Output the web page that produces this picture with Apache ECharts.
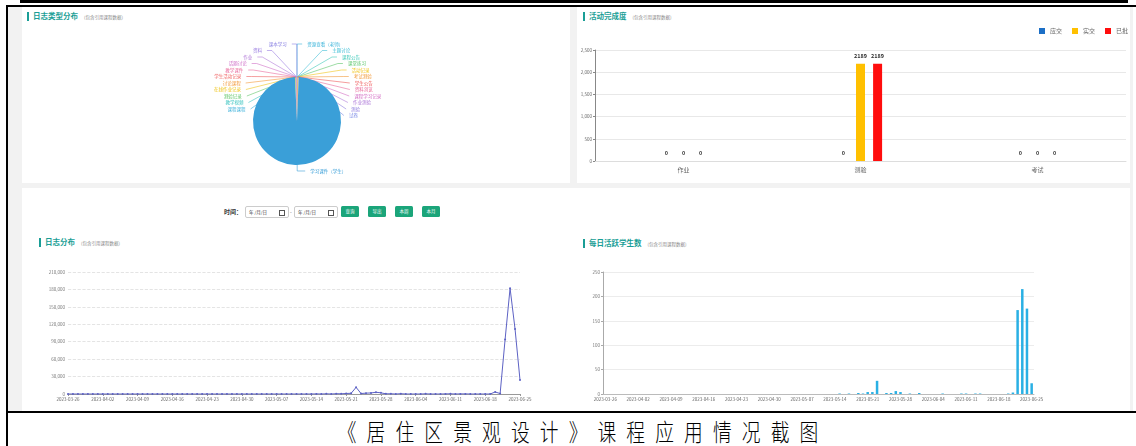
<!DOCTYPE html>
<html><head><meta charset="utf-8">
<script src="https://cdn.jsdelivr.net/npm/echarts/dist/echarts.min.js"></script>
<style>
body{margin:0;width:1136px;height:446px;background:#fff;position:relative;overflow:hidden;font-family:"Noto Sans CJK SC","Noto Sans",sans-serif;}
.a{position:absolute;}
.blk{position:absolute;background:#000;}
.panel{position:absolute;background:#fff;}
.ttl{position:absolute;font-size:7.5px;font-weight:bold;color:#1a9e96;line-height:10px;white-space:nowrap;}
.ttl:before{content:"";position:absolute;left:-6px;top:1px;width:2px;height:9px;background:#1a9e96;}
.ttl span{font-size:4.5px;font-weight:normal;color:#888;margin-left:6px;vertical-align:middle;}
.date{position:absolute;top:206px;height:10px;width:42px;border:1px solid #ccc;border-radius:2px;background:#fff;font-size:4.5px;color:#333;line-height:10px;}
.date i{position:absolute;right:3px;top:3px;width:4px;height:4px;border:0.7px solid #555;}
.btn{position:absolute;top:206px;width:18px;height:11px;background:#1ba57a;border-radius:1.5px;color:#fff;font-size:4.5px;line-height:11px;text-align:center;}
.cap{position:absolute;left:10px;width:1136px;top:417px;text-align:center;font-size:24px;line-height:28px;color:#000;}
.cap span{display:inline-block;transform:scaleX(0.78);letter-spacing:13px;padding-left:13px;font-family:"Noto Sans CJK SC";font-weight:300;}
</style></head><body>
<!-- document frame -->
<div class="blk" style="left:20px;top:0;width:1108px;height:3px"></div>
<div class="blk" style="left:6px;top:4.5px;width:1130px;height:2px"></div>
<div class="blk" style="left:6px;top:5px;width:1.5px;height:441px"></div>
<div class="blk" style="left:6px;top:411px;width:1130px;height:1.5px"></div>
<!-- dashboard background -->
<div class="a" style="left:7.5px;top:6.5px;width:1125px;height:404.5px;background:#f2f2f2"></div>
<div class="panel" style="left:22px;top:7px;width:548px;height:176px"></div>
<div class="panel" style="left:577px;top:7px;width:553px;height:176px"></div>
<div class="panel" style="left:22px;top:188px;width:1108px;height:223px"></div>

<div class="ttl" style="left:33px;top:11px">日志类型分布<span>(包含引用课程数据)</span></div>
<div class="ttl" style="left:589px;top:11px">活动完成度<span>(包含引用课程数据)</span></div>
<div class="ttl" style="left:45px;top:237px">日志分布<span>(包含引用课程数据)</span></div>
<div class="ttl" style="left:589px;top:238px">每日活跃学生数<span>(包含引用课程数据)</span></div>

<div class="a" style="left:224px;top:206px;font-size:6px;font-weight:bold;line-height:11px;color:#333">时间：</div>
<div class="date" style="left:245px"><span style="margin-left:3px">年 /月/日</span><i></i></div>
<div class="a" style="left:290px;top:206px;font-size:5px;line-height:11px;color:#555">-</div>
<div class="date" style="left:294px"><span style="margin-left:3px">年 /月/日</span><i></i></div>
<div class="btn" style="left:341px">查询</div>
<div class="btn" style="left:368px">导出</div>
<div class="btn" style="left:395px">本周</div>
<div class="btn" style="left:422px">本月</div>

<div id="c1" class="a" style="left:22px;top:7px;width:548px;height:176px"></div>
<div id="c2" class="a" style="left:577px;top:7px;width:553px;height:176px"></div>
<div id="c3" class="a" style="left:22px;top:230px;width:548px;height:180px"></div>
<div id="c4" class="a" style="left:577px;top:230px;width:553px;height:180px"></div>

<div class="cap"><span>《居住区景观设计》课程应用情况截图</span></div>

<script>
// ---------- data ----------
const pieNames = ['资源查看（老师）','主题讨论','课程公告','课堂练习','活动记录','考试测验','学生公告','资料浏览','课程学习记录','作业测验','测验','试卷',
  '学习课件（学生）',
  '课程课程','教学视频','测验记录','在线作业记录','讨论课程','学生活动记录','教学课件','话题讨论','作业','资料','课本学习'];
const pieValues = [6,4,3,3,4,30,3,3,2,2,2,2,
  10000,
  6,7,7,8,7,8,7,7,6,6,8];
const mainSlice = '学习课件（学生）';

const actCats = ['作业','测验','考试'];
const actShould = [0,0,0];
const actDone = [0,2189,0];
const actMarked = [0,2189,0];
const actTicks = [0,500,1000,1500,2000,2500];

const dates = ['2023-03-26','2023-03-27','2023-03-28','2023-03-29','2023-03-30','2023-03-31',
'2023-04-01','2023-04-02','2023-04-03','2023-04-04','2023-04-05','2023-04-06','2023-04-07','2023-04-08','2023-04-09','2023-04-10',
'2023-04-11','2023-04-12','2023-04-13','2023-04-14','2023-04-15','2023-04-16','2023-04-17','2023-04-18','2023-04-19','2023-04-20',
'2023-04-21','2023-04-22','2023-04-23','2023-04-24','2023-04-25','2023-04-26','2023-04-27','2023-04-28','2023-04-29','2023-04-30',
'2023-05-01','2023-05-02','2023-05-03','2023-05-04','2023-05-05','2023-05-06','2023-05-07','2023-05-08','2023-05-09','2023-05-10',
'2023-05-11','2023-05-12','2023-05-13','2023-05-14','2023-05-15','2023-05-16','2023-05-17','2023-05-18','2023-05-19','2023-05-20',
'2023-05-21','2023-05-22','2023-05-23','2023-05-24','2023-05-25','2023-05-26','2023-05-27','2023-05-28','2023-05-29','2023-05-30','2023-05-31',
'2023-06-01','2023-06-02','2023-06-03','2023-06-04','2023-06-05','2023-06-06','2023-06-07','2023-06-08','2023-06-09','2023-06-10',
'2023-06-11','2023-06-12','2023-06-13','2023-06-14','2023-06-15','2023-06-16','2023-06-17','2023-06-18','2023-06-19','2023-06-20',
'2023-06-21','2023-06-22','2023-06-23','2023-06-24','2023-06-25'];

const logCounts = [
0,0,0,0,0,0,0,0,0,0,
0,0,0,0,0,0,0,0,0,0,
0,0,0,0,0,0,0,0,0,0,
0,0,0,0,0,0,0,0,0,0,
0,0,0,0,0,0,0,0,0,0,
200,0,300,0,500,300,900,1200,11500,800,
1500,1800,3000,2000,300,400,0,500,0,0,
0,0,300,0,0,0,200,300,0,200,
200,0,0,0,0,0,3500,800,94000,182000,
112000,24000];

const activeStudents = [
0,0,0,0,0,0,0,0,0,0,
0,0,0,0,0,0,0,0,0,0,
0,0,0,0,0,0,0,0,0,0,
0,0,0,0,0,0,0,0,0,0,
0,0,0,0,0,0,0,0,0,0,
1,0,1,0,2,1,4,4,27,0,
2,2,6,4,0,1,0,2,0,0,
0,0,1,0,0,0,1,1,0,1,
1,0,0,0,0,0,1,3,172,215,
175,22];

const logTicks = [0,30000,60000,90000,120000,150000,180000,210000];
const activeTicks = [0,50,100,150,200,250];

// ---------- charts ----------
const FONT = '"Noto Sans CJK SC","Noto Sans",sans-serif';
const pieColors = ['#39b3d9','#3fbfd6','#3ec9b9','#5cc56a','#f0c419','#f29b3a','#ef5b5b','#ea6c9c','#d36fc4','#ad78d8','#8f7ddf','#7c8be6',
  '#3a9fd8',
  '#3ab0da','#3bc4c0','#62c66a','#efc41b','#f39a3b','#ef6262','#e96c9e','#d070c8','#b27ad8','#9a7de0','#8a82e2'];

const mainIdx = pieNames.indexOf(mainSlice);
const lastIdx = pieNames.length - 1;
const c1 = echarts.init(document.getElementById('c1'));
c1.setOption({
  animation:false,
  color: pieColors,
  series:[{
    type:'pie', center:[275,114], radius:44,
    data: pieNames.map((n,i)=>{
      const d = {name:n, value:pieValues[i]};
      if (i === mainIdx) {
        d.labelLine = {length:6, length2:8};
      } else {
        // guide-line length tapers so the small-slice labels stack above the pie
        const t = i < mainIdx ? i/(mainIdx-1) : (lastIdx-i)/(lastIdx-mainIdx-1);
        d.labelLine = {length: 33 - 30*t, length2:5};
      }
      return d;
    }),
    label:{fontSize:4.5, lineHeight:4.5, margin:-3, fontFamily:FONT, color:'inherit', padding:0},
    labelLine:{length:30,length2:5,lineStyle:{width:0.6}},
    itemStyle:{borderColor:'#fff',borderWidth:0}
  }]
});

const c2 = echarts.init(document.getElementById('c2'));
const barLbl = {show:true, position:'top', fontSize:5.5, fontWeight:'bold', color:'#333', fontFamily:FONT};
c2.setOption({
  animation:false,
  legend:{right:2, top:21, padding:0, itemWidth:6, itemHeight:6, itemGap:10, icon:'rect',
    textStyle:{fontSize:6, color:'#666', fontFamily:FONT}},
  grid:{left:18, right:4, top:43, bottom:22},
  xAxis:{type:'category', data:actCats,
    axisLine:{lineStyle:{color:'#ddd'}}, axisTick:{show:false},
    axisLabel:{fontSize:6, color:'#666', fontFamily:FONT, margin:6}},
  yAxis:{type:'value', min:actTicks[0], max:actTicks[actTicks.length-1], interval:500,
    axisLine:{show:true, lineStyle:{color:'#888'}}, axisTick:{show:true,length:2,lineStyle:{color:'#888'}},
    axisLabel:{fontSize:4.5, color:'#666', fontFamily:FONT, margin:3},
    splitLine:{lineStyle:{color:'#e8e8e8'}}},
  series:[
    {name:'应交', type:'bar', data:actShould, barWidth:9, barGap:'90%', itemStyle:{color:'#1c6fc6'}, label:barLbl},
    {name:'实交', type:'bar', data:actDone, barWidth:9, barGap:'90%', itemStyle:{color:'#ffc000'}, label:barLbl},
    {name:'已批', type:'bar', data:actMarked, barWidth:9, barGap:'90%', itemStyle:{color:'#ff0d0d'}, label:barLbl}
  ]
});

const c3 = echarts.init(document.getElementById('c3'));
c3.setOption({
  animation:false,
  grid:{left:46, right:50, top:42, bottom:16},
  xAxis:{type:'category', data:dates, boundaryGap:false,
    axisLine:{lineStyle:{color:'#999'}}, axisTick:{interval:6,length:2,lineStyle:{color:'#999'}},
    axisLabel:{interval:6, fontSize:4.5, color:'#666', fontFamily:FONT, margin:3}},
  yAxis:{type:'value', min:logTicks[0], max:logTicks[logTicks.length-1], interval:30000,
    axisLine:{show:false}, axisTick:{show:false},
    axisLabel:{fontSize:4.5, color:'#777', fontFamily:FONT, margin:3},
    splitLine:{lineStyle:{color:'#ddd', type:'dashed', width:0.8}}},
  series:[{type:'line', data:logCounts, symbol:'circle', symbolSize:2, showAllSymbol:true,
    lineStyle:{width:1, color:'#5d62c4'}, itemStyle:{color:'#5d62c4'}}]
});

const c4 = echarts.init(document.getElementById('c4'));
c4.setOption({
  animation:false,
  grid:{left:26, right:96, top:42, bottom:16},
  xAxis:{type:'category', data:dates,
    axisLine:{lineStyle:{color:'#bbb'}}, axisTick:{interval:6,length:2,lineStyle:{color:'#999'}},
    axisLabel:{interval:6, fontSize:4.5, color:'#666', fontFamily:FONT, margin:3}},
  yAxis:{type:'value', min:activeTicks[0], max:activeTicks[activeTicks.length-1], interval:50,
    axisLine:{show:true, lineStyle:{color:'#aaa'}}, axisTick:{show:true,length:2,lineStyle:{color:'#aaa'}},
    axisLabel:{fontSize:4.5, color:'#777', fontFamily:FONT, margin:3},
    splitLine:{lineStyle:{color:'#ececec'}}},
  series:[{type:'bar', data:activeStudents, barWidth:2.5, itemStyle:{color:'#2ab0e4'}}]
});
</script>
</body></html>
